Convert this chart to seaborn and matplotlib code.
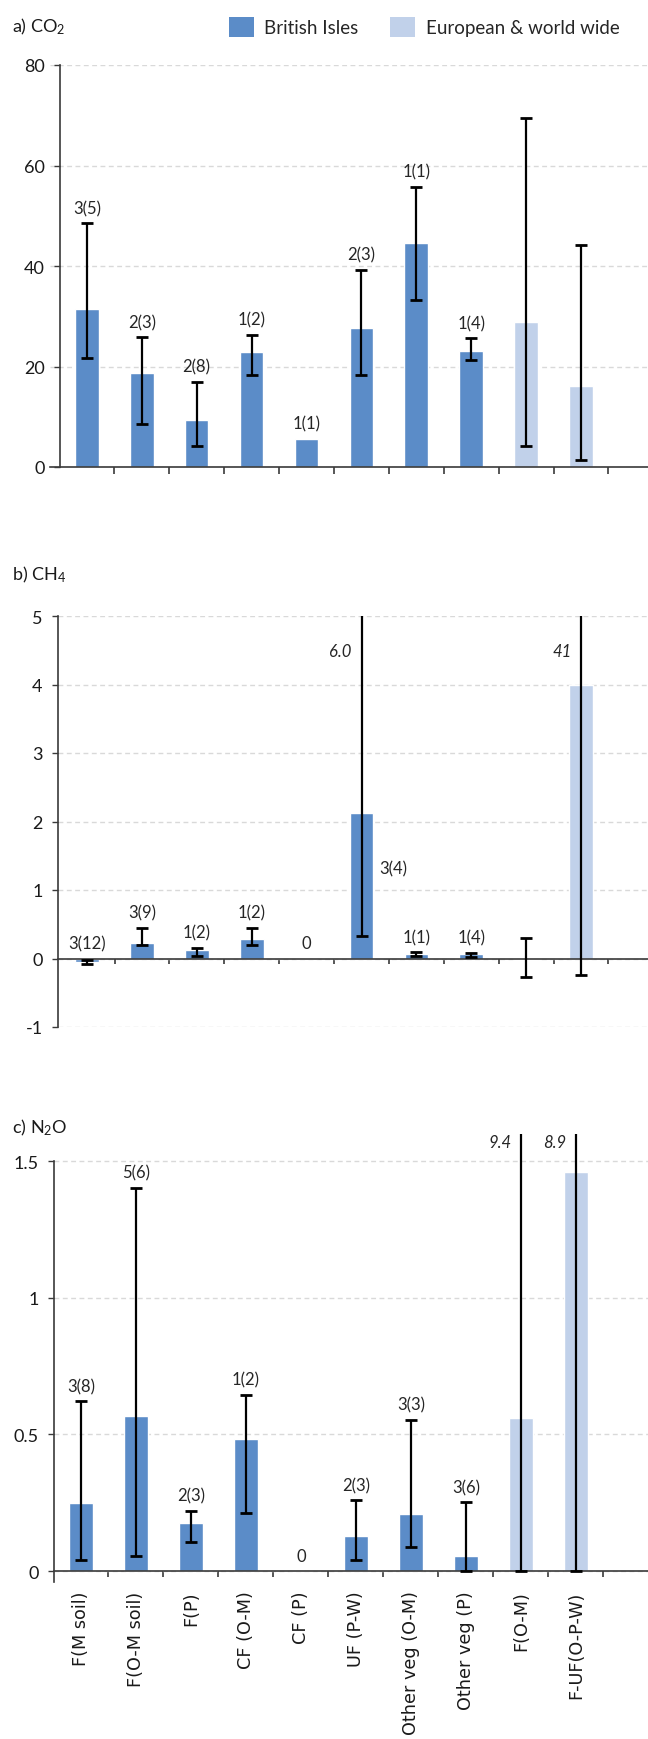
"""
Fluxos de CO2, CH4 e N2O por tipo de uso do solo (três painéis empilhados).
"""
import numpy as np
import pandas as pd
import matplotlib
matplotlib.use("Agg")
import matplotlib.pyplot as plt
from matplotlib.patches import Patch
import seaborn as sns

# Dados
categories = ["F(M soil)", "F(O-M soil)", "F(P)", "CF (O-M)", "CF (P)",
              "UF (P-W)", "Other veg (O-M)", "Other veg (P)", "F(O-M)",
              "F-UF(O-P-W)"]
regions = ["British Isles"] * 8 + ["European & world wide"] * 2
region_names = ["British Isles", "European & world wide"]

co2_mean = [31.4, 18.8, 9.3, 22.8, 5.6, 27.7, 44.5, 23.0, 28.8, 16.1]
co2_lo = [21.6, 8.5, 4.1, 18.4, np.nan, 18.4, 33.3, 21.2, 4.1, 1.4]
co2_hi = [48.5, 25.8, 17.0, 26.3, np.nan, 39.3, 55.8, 25.6, 69.5, 44.2]
co2_n = ["3(5)", "2(3)", "2(8)", "1(2)", "1(1)", "2(3)", "1(1)", "1(4)", "", ""]

ch4_mean = [-0.05, 0.23, 0.12, 0.28, 0.0, 2.13, 0.06, 0.06, -0.02, 4.0]
ch4_lo = [-0.08, 0.20, 0.04, 0.20, np.nan, 0.33, 0.03, 0.02, -0.27, -0.24]
ch4_hi = [-0.025, 0.45, 0.16, 0.45, np.nan, 6.0, 0.09, 0.08, 0.30, 41]
ch4_n = ["3(12)", "3(9)", "1(2)", "1(2)", "0", "3(4)", "1(1)", "1(4)", "", ""]

n2o_mean = [0.25, 0.566, 0.177, 0.482, 0.0, 0.13, 0.21, 0.056, 0.562, 1.461]
n2o_lo = [0.039, 0.055, 0.108, 0.211, np.nan, 0.039, 0.089, 0.0, 0.0, 0.0]
n2o_hi = [0.622, 1.403, 0.22, 0.645, np.nan, 0.259, 0.553, 0.252, 9.4, 8.9]
n2o_n = ["3(8)", "5(6)", "2(3)", "1(2)", "0", "2(3)", "3(3)", "3(6)", "", ""]

# Estilo
sns.set_style("white")
plt.rcParams["font.family"] = ["Lato", "DejaVu Sans"]
plt.rcParams["mathtext.default"] = "regular"
plt.rcParams["axes.unicode_minus"] = False

BLUE = "#5b8cc8"
LIGHT = "#c1d1ea"
palette = {"British Isles": BLUE, "European & world wide": LIGHT}
AXCOL = "#3a3a3a"

W, H = 648, 1740
fig = plt.figure(figsize=(W / 100, H / 100), dpi=100)


def px_rect(left, top, right, bottom):
    return [left / W, 1 - bottom / H, (right - left) / W, (bottom - top) / H]


panels = [
    dict(title="a) CO$_2$", title_y=27, rect=(50, 66, 648, 468),
         xlim=(-0.67, 10.22), yspine_x=-0.49, ylim=(0, 80),
         yticks=[0, 20, 40, 60, 80], yticklabels=["0", "20", "40", "60", "80"],
         ybounds=(0, 80), mean=co2_mean, lo=co2_lo, hi=co2_hi, n=co2_n,
         ticklen=5, off_y=None, side_y=None),
    dict(title="b) CH$_4$", title_y=575, rect=(58, 617, 648, 1028),
         xlim=(-0.53, 10.22), yspine_x=None, ylim=(-1, 5),
         yticks=[-1, 0, 1, 2, 3, 4, 5],
         yticklabels=["-1", "0", "1", "2", "3", "4", "5"], ybounds=(-1, 5),
         mean=ch4_mean, lo=ch4_lo, hi=ch4_hi, n=ch4_n, ticklen=3.5,
         off_y=4.49, side_y=1.32),
    dict(title="c) N$_2$O", title_y=1128, rect=(54, 1135, 648, 1583),
         xlim=(-0.49, 10.31), yspine_x=None, ylim=(-0.04, 1.6),
         yticks=[0, 0.5, 1, 1.5], yticklabels=["0", "0.5", "1", "1.5"],
         ybounds=(-0.04, 1.5), mean=n2o_mean, lo=n2o_lo, hi=n2o_hi, n=n2o_n,
         ticklen=4.5, off_y=1.57, side_y=None),
]

x = np.arange(len(categories))

for k, p in enumerate(panels):
    ax = fig.add_axes(px_rect(*p["rect"]))
    df = pd.DataFrame({"category": categories, "value": p["mean"],
                       "region": regions})
    sns.barplot(data=df, x="category", y="value", hue="region",
                order=categories, hue_order=region_names, palette=palette,
                dodge=False, width=0.43, saturation=1, errorbar=None,
                legend=False, ax=ax, zorder=2)

    mean = np.array(p["mean"], dtype=float)
    lo = np.array(p["lo"], dtype=float)
    hi = np.array(p["hi"], dtype=float)
    ok = ~np.isnan(lo)
    ax.errorbar(x[ok], mean[ok], yerr=[mean[ok] - lo[ok], hi[ok] - mean[ok]],
                fmt="none", ecolor="black", elinewidth=1.6, capsize=4.6,
                capthick=2, zorder=3)

    top = p["ylim"][1]
    for i in range(len(categories)):
        offscale = ok[i] and hi[i] > top
        if offscale:
            txt = f"{hi[i]:.0f}" if hi[i] >= 10 else f"{hi[i]:.1f}"
            ax.annotate(txt, (i, p["off_y"]), xytext=(-7, 0),
                        textcoords="offset points", ha="right", va="center",
                        fontsize=12, style="italic")
        if not p["n"][i]:
            continue
        if offscale:
            ax.annotate(p["n"][i], (i, p["side_y"]), xytext=(13, 0),
                        textcoords="offset points", ha="left", va="center",
                        fontsize=12)
        else:
            yref = hi[i] if ok[i] else mean[i]
            ax.annotate(p["n"][i], (i, max(yref, 0)), xytext=(0, 11),
                        textcoords="offset points", ha="center", va="center",
                        fontsize=12)

    ax.set_xlim(*p["xlim"])
    ax.set_ylim(*p["ylim"])
    ax.set_yticks(p["yticks"])
    ax.set_yticklabels(p["yticklabels"])
    ax.set_xlabel("")
    ax.set_ylabel("")

    # eixos
    for side in ["top", "right"]:
        ax.spines[side].set_visible(False)
    ax.spines["bottom"].set_position(("data", 0))
    if p["yspine_x"] is not None:
        ax.spines["left"].set_position(("data", p["yspine_x"]))
    ax.spines["left"].set_bounds(*p["ybounds"])
    for side in ["left", "bottom"]:
        ax.spines[side].set_color(AXCOL)
        ax.spines[side].set_linewidth(1.2)

    ax.yaxis.grid(True, linestyle=(0, (3.5, 2.5)), color="#d9d9d9", lw=1)
    ax.set_axisbelow(True)
    ax.tick_params(axis="y", which="major", left=True, length=4, width=1,
                   color=AXCOL, labelsize=13, pad=7, labelcolor="#1a1a1a")
    ax.set_xticks(x + 0.5, minor=True)
    ax.tick_params(axis="x", which="minor", bottom=True, length=p["ticklen"],
                   width=1.2, color=AXCOL, direction="out")
    ax.tick_params(axis="x", which="major", bottom=True, length=0, pad=14)

    if k < 2:
        ax.tick_params(axis="x", labelbottom=False)
    else:
        ax.set_xticks(x)
        ax.set_xticklabels(categories, rotation=90, ha="center", va="top",
                           fontsize=12.7, family=["DejaVu Sans"],
                           color="#1a1a1a")

    fig.text(12 / W, 1 - p["title_y"] / H, p["title"], ha="left",
             va="center", fontsize=13, color="#1a1a1a")

handles = [Patch(facecolor=palette[r], edgecolor="none", label=r)
           for r in region_names]
fig.legend(handles=handles, loc="center left",
           bbox_to_anchor=(229 / W, 1 - 28 / H), ncol=2, frameon=False,
           fontsize=13.5, handlelength=1.33, handleheight=1.33,
           handletextpad=0.55, columnspacing=1.7, borderpad=0,
           borderaxespad=0)

fig.savefig("out.png", dpi=100)
plt.close(fig)
